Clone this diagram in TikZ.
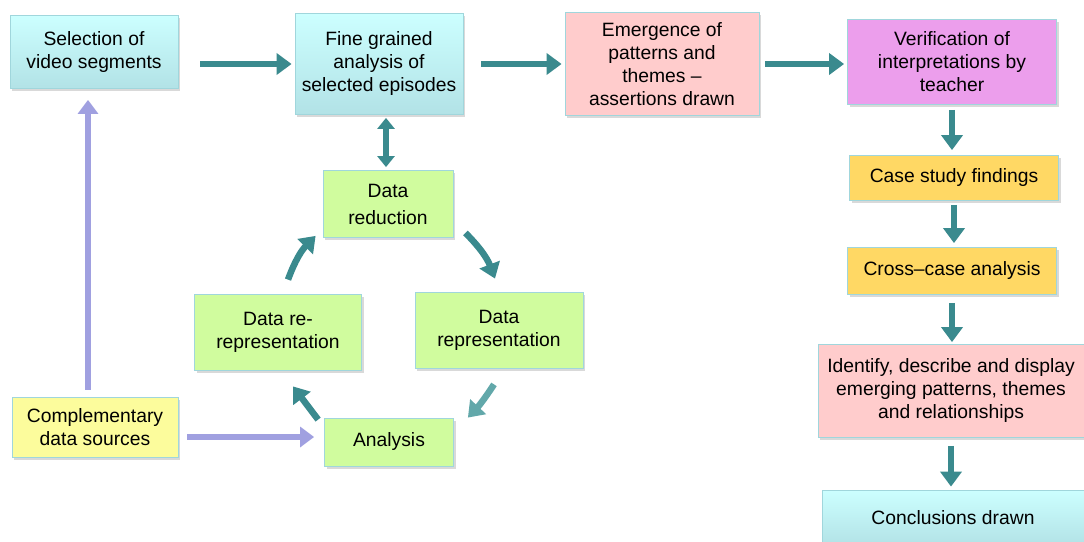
\documentclass[tikz,border=0pt]{standalone}
\usepackage{fontspec}
\setmainfont{Liberation Sans}
\usetikzlibrary{arrows.meta,shadows}
\definecolor{tealarr}{RGB}{58,138,142}
\definecolor{tealpale}{RGB}{98,168,170}
\definecolor{purparr}{RGB}{160,160,224}
\definecolor{cyantop}{RGB}{204,255,255}
\definecolor{cyanbot}{RGB}{178,226,230}
\definecolor{pinkbox}{RGB}{255,204,204}
\definecolor{magbox}{RGB}{236,158,236}
\definecolor{goldbox}{RGB}{255,216,100}
\definecolor{greenbox}{RGB}{208,252,158}
\definecolor{lemonbox}{RGB}{252,252,156}
\definecolor{boxline}{RGB}{160,214,220}
\tikzset{
	box/.style={rectangle, draw=boxline, line width=0.8pt, align=center, inner sep=2pt,
		font=\fontsize{19.3}{23}\selectfont,
		drop shadow={shadow xshift=2pt, shadow yshift=-2.5pt, opacity=0.3}},
	cyanfill/.style={box, top color=cyantop, bottom color=cyanbot},
	pinkfill/.style={box, fill=pinkbox},
	magfill/.style={box, fill=magbox},
	goldfill/.style={box, fill=goldbox},
	greenfill/.style={box, fill=greenbox},
	lemonfill/.style={box, fill=lemonbox},
	flow/.style={draw=tealarr, line width=6.5pt, -{Triangle[width=21pt,length=15pt]}},
	both/.style={draw=tealarr, line width=6pt, {Triangle[width=17pt,length=11pt]}-{Triangle[width=17pt,length=11pt]}},
	cyc/.style={flow},
	feed/.style={draw=purparr, line width=6pt, -{Triangle[width=20pt,length=14pt]}}
}
\begin{document}
\begin{tikzpicture}[x=1pt,y=-1pt]
	\useasboundingbox (0,0) rectangle (1084,541);
	\node[cyanfill, minimum width=168, minimum height=73] (sel) at (94,52) {Selection of\\video segments};
	\node[cyanfill, minimum width=168, minimum height=101] (fine) at (379,64) {Fine grained\\analysis of\\selected episodes};
	\node[pinkfill, minimum width=194, minimum height=103] (emer) at (662,64) {Emergence of\\patterns and\\themes –\\assertions drawn};
	\node[magfill, minimum width=209, minimum height=85] (verif) at (952,62) {Verification of\\interpretations by\\teacher};
	\node[goldfill, minimum width=209, minimum height=45] (case) at (954,178) {Case study findings};
	\node[goldfill, minimum width=209, minimum height=47] (cross) at (952,271) {Cross–case analysis};
	\node[pinkfill, minimum width=266, minimum height=93] (ident) at (951,391) {Identify, describe and display\\emerging patterns, themes\\and relationships};
	\node[cyanfill, minimum width=262, minimum height=56] (concl) at (953,518) {Conclusions drawn};
	\node[greenfill, minimum width=130, minimum height=67, font=\fontsize{19.3}{27}\selectfont] (reduct) at (388,204) {Data\\reduction};
	\node[greenfill, minimum width=167, minimum height=76] (rerep) at (278,332) {Data re-\\representation};
	\node[greenfill, minimum width=168, minimum height=76] (repr) at (499,330) {Data\\representation};
	\node[greenfill, minimum width=129, minimum height=48] (anal) at (389,442) {Analysis};
	\node[lemonfill, minimum width=166, minimum height=60] (compl) at (95,427) {Complementary\\data sources};
	\draw[flow, shorten <=22pt, shorten >=3pt] (sel.east |- fine.west) -- (fine.west);
	\draw[flow, shorten <=18pt, shorten >=3pt] (fine.east) -- (emer.west);
	\draw[flow, shorten <=6pt, shorten >=3pt] (emer.east) -- (emer.east -| verif.west);
	\draw[flow, shorten <=5pt, shorten >=5pt] (verif.south) -- (verif.south |- case.north);
	\draw[flow, shorten <=4pt, shorten >=4pt] (case.south) -- (case.south |- cross.north);
	\draw[flow, shorten <=8pt, shorten >=2pt] (cross.south) -- (cross.south |- ident.north);
	\draw[flow, shorten <=8pt, shorten >=3pt] (ident.south) -- (ident.south |- concl.north);
	\draw[both, shorten <=3pt, shorten >=3pt] ([xshift=-2pt]reduct.north |- fine.south) -- ([xshift=-2pt]reduct.north);
	\draw[cyc] ([shift={(12pt,5pt)}]reduct.south east) to[bend left=12] ([shift={(-4pt,13pt)}]repr.north);
	\draw[cyc, draw=tealpale] ([shift={(-5pt,-16pt)}]repr.south) to[bend left=5] ([shift={(14pt,0pt)}]anal.north east);
	\draw[cyc] ([shift={(-6pt,-2pt)}]anal.north west) -- ([shift={(15pt,-16pt)}]rerep.south);
	\draw[cyc] ([shift={(10pt,14pt)}]rerep.north) to[bend left=12] ([shift={(-7pt,2pt)}]reduct.south west);
	\draw[feed, shorten <=7pt, shorten >=11pt] ([xshift=-7pt]compl.north) -- ([xshift=-7pt]compl.north |- sel.south);
	\draw[feed, shorten <=9pt, shorten >=10pt] ([yshift=-10pt]compl.east) -- ([yshift=-10pt]compl.east -| anal.west);
\end{tikzpicture}
\end{document}
